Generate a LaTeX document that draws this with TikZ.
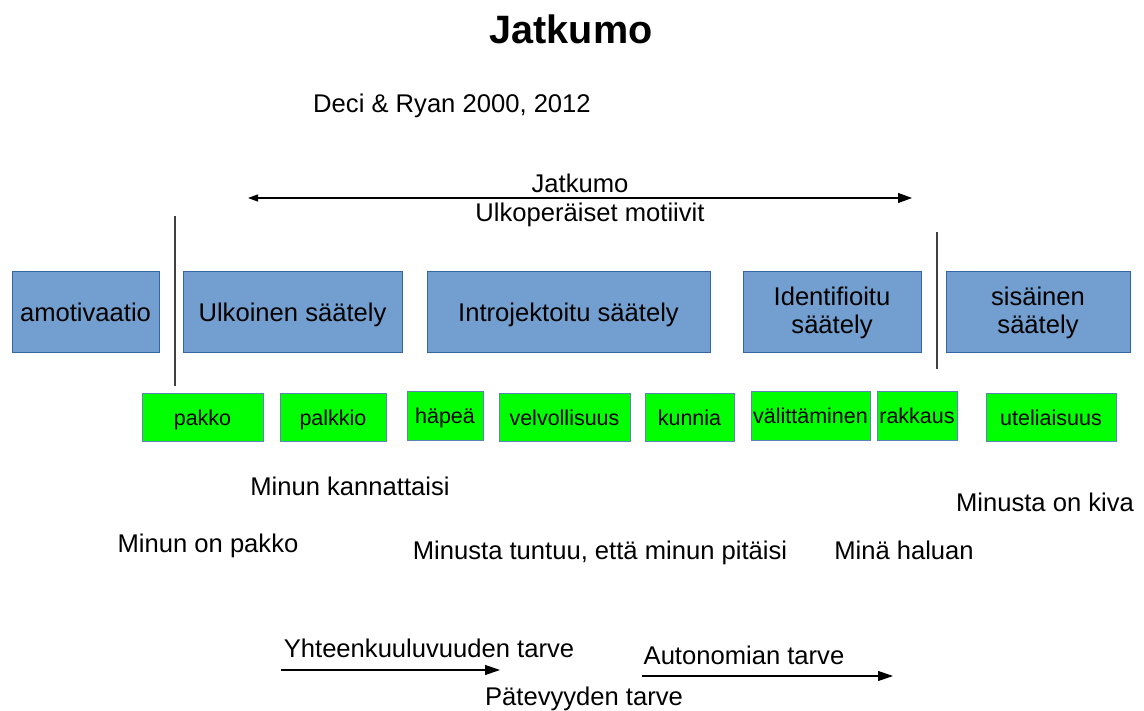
\documentclass[tikz,border=0pt]{standalone}
\usepackage{fontspec}
\setmainfont{Liberation Sans}
\usetikzlibrary{arrows.meta}
\definecolor{bluefill}{HTML}{729FCF}
\definecolor{blueedge}{HTML}{3465A4}
\definecolor{greenfill}{HTML}{00FF00}
\tikzset{
  bluebox/.style={draw=blueedge, fill=bluefill, line width=1pt, inner sep=0pt, align=center, font=\fontsize{25.6}{28}\selectfont},
  onecap/.style={text height=18.3pt, text depth=0pt},
  greenbox/.style={draw=blueedge!80, fill=greenfill, line width=1pt, inner sep=0pt, text height=15.4pt, text depth=0pt, font=\fontsize{21.5}{24}\selectfont},
  label/.style={inner sep=0pt, onecap, font=\fontsize{25.6}{28}\selectfont},
  divider/.style={draw=black!75, line width=1.5pt},
  needarrow/.style={draw=black, line width=1.2pt, -{Triangle[length=15pt,width=10pt]}},
}
\begin{document}
\begin{tikzpicture}[x=1pt,y=-1pt]
\useasboundingbox (0,0) rectangle (1144,711);
% title
\node[inner sep=0pt, text height=28.4pt, text depth=0pt, font=\fontsize{39.6}{44}\selectfont\bfseries] (title) at (571,29) {Jatkumo};
\node[label] (ref) at (452,103) {Deci \& Ryan 2000, 2012};
% top arrow
\coordinate (tl) at (248,198);
\coordinate (tr) at (912,198);
\draw[line width=1.2pt, {Triangle[length=10pt,width=7pt]}-{Triangle[length=14pt,width=10pt]}] (tl) -- (tr);
\node[label] (jat) at (580,183) {Jatkumo};
\node[label] (ulko) at (590,212) {Ulkoperäiset motiivit};
% blue boxes
\node[bluebox, minimum width=147pt, minimum height=81pt, onecap] (amo) at (85.5,312.5) {amotivaatio};
\node[bluebox, minimum width=219pt, minimum height=81pt, onecap] (uls) at (292.5,312.5) {Ulkoinen säätely};
\node[bluebox, minimum width=283pt, minimum height=81pt, onecap] (ins) at (568.5,312.5) {Introjektoitu säätely};
\node[bluebox, minimum width=178pt, minimum height=81pt] (ids) at (832,312.5) {Identifioitu\\säätely};
\node[bluebox, minimum width=184pt, minimum height=81pt] (sis) at (1038,312.5) {sisäinen\\säätely};
% dividers
\coordinate (d1t) at (175,216);
\coordinate (d1b) at (175,386);
\coordinate (d2t) at (937,232);
\coordinate (d2b) at (937,369);
\draw[divider] (d1t) -- (d1b);
\draw[divider] (d2t) -- (d2b);
% green boxes
\node[greenbox, minimum width=121pt, minimum height=47pt] (pakko) at (202.5,417.5) {pakko};
\node[greenbox, minimum width=106pt, minimum height=47pt] (palkkio) at (333,417.5) {palkkio};
\node[greenbox, minimum width=76pt, minimum height=48pt] (hapea) at (445,416) {häpeä};
\node[greenbox, minimum width=131pt, minimum height=47pt] (velv) at (564.5,417.5) {velvollisuus};
\node[greenbox, minimum width=89pt, minimum height=47pt] (kunnia) at (689.5,417.5) {kunnia};
\node[greenbox, minimum width=119pt, minimum height=48pt] (valit) at (810.5,416) {välittäminen};
\node[greenbox, minimum width=80pt, minimum height=48pt] (rakk) at (917,416) {rakkaus};
\node[greenbox, minimum width=130pt, minimum height=47pt] (utel) at (1051,417.5) {uteliaisuus};
% phrases
\node[label] (kann) at (350,486) {Minun kannattaisi};
\node[label] (pakkotxt) at (208,543) {Minun on pakko};
\node[label] (tuntuu) at (600,550) {Minusta tuntuu, että minun pitäisi};
\node[label] (haluan) at (904,550) {Minä haluan};
\node[label] (kiva) at (1045,502) {Minusta on kiva};
% needs
\node[label] (yht) at (429,648) {Yhteenkuuluvuuden tarve};
\coordinate (a1s) at (281,670);
\coordinate (a1e) at (500,670);
\draw[needarrow] (a1s) -- (a1e);
\node[label] (auto) at (744,655) {Autonomian tarve};
\coordinate (a2s) at (642,676);
\coordinate (a2e) at (893,676);
\draw[needarrow] (a2s) -- (a2e);
\node[label] (pat) at (584,696) {Pätevyyden tarve};
\end{tikzpicture}
\end{document}
